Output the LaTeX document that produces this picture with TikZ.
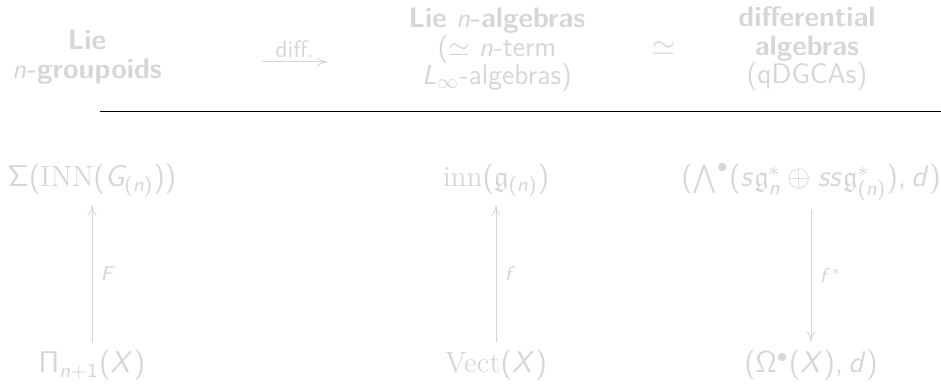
\documentclass[tikz,border=0pt]{standalone}
\usepackage{amsmath}
\usepackage{amssymb}
\usetikzlibrary{positioning}
\usetikzlibrary{arrows.meta}
\renewcommand{\familydefault}{\sfdefault}
\definecolor{faded}{RGB}{214,214,214}
% sans serif letters and operators in math
\DeclareSymbolFont{sfletters}{OT1}{cmss}{m}{sl}
\SetSymbolFont{operators}{normal}{OT1}{cmss}{m}{n}
\DeclareMathSymbol{,}{\mathpunct}{operators}{"2C}
\makeatletter
\count@=`a
\loop \mathcode\count@=\numexpr"7000+\symsfletters*"100+\count@\relax
  \ifnum\count@<`z \advance\count@ 1 \repeat
\count@=`A
\loop \mathcode\count@=\numexpr"7000+\symsfletters*"100+\count@\relax
  \ifnum\count@<`Z \advance\count@ 1 \repeat
\makeatother

\begin{document}
\begin{tikzpicture}[x=0.4pt, y=-0.4pt, every node/.style={text=faded, font=\fontsize{11.7}{14}\selectfont},
    head/.style={align=center, font=\fontsize{11.3}{11.4}\selectfont},
    lbl/.style={font=\fontsize{8}{9}\selectfont}, map/.style={-{To[length=4pt, width=3.6pt]}, draw=faded}]
    \useasboundingbox (0,0) rectangle (941,384);
    \node[head] (grp) at (87,57) {\textbf{Lie}\\$n$\textbf{-groupoids}};
    \coordinate (d0) at (262,62);
    \coordinate (d1) at (327,62);
    \draw[map] (d0) -- node[above, font=\fontsize{9.5}{11}\selectfont, inner sep=1.5pt] {diff.} (d1);
    \node[head] (lna) at (497,50) {\textbf{Lie} $n$\textbf{-algebras}\\($\simeq$ $n$-term\\$L_\infty$-algebras)};
    \node (eq) at (664,48.5) {$\simeq$};
    \node[head] (dga) at (807,49) {\textbf{differential}\\\textbf{algebras}\\(qDGCAs)};
    \coordinate (r0) at (100,112);
    \coordinate (r1) at (941,112);
    \draw[line width=0.4pt] (r0) -- (r1);

    \node[anchor=base] (sig) at (92,187) {$\Sigma(\textrm{INN}(G_{(n)}))$};
    \node[anchor=base] (inn) at (496,187) {$\textrm{inn}(\mathfrak{g}_{(n)})$};
    \node[anchor=base] (cea) at (811,187) {$(\bigwedge^\bullet(s\mathfrak{g}_n^* \oplus ss\mathfrak{g}_{(n)}^*), d)$};
    \node[anchor=base] (pi) at (92,373) {$\Pi_{n+1}(X)$};
    \node[anchor=base] (vec) at (496,373) {$\textrm{Vect}(X)$};
    \node[anchor=base] (om) at (811,373) {$(\Omega^\bullet(X), d)$};
    \draw[map] (pi) -- node[right, lbl] {$F$} (sig);
    \draw[map] (vec) -- node[right, lbl] {$f$} (inn);
    \draw[map] (cea) -- node[right, lbl] {$f^*$} (om);
\end{tikzpicture}
\end{document}
